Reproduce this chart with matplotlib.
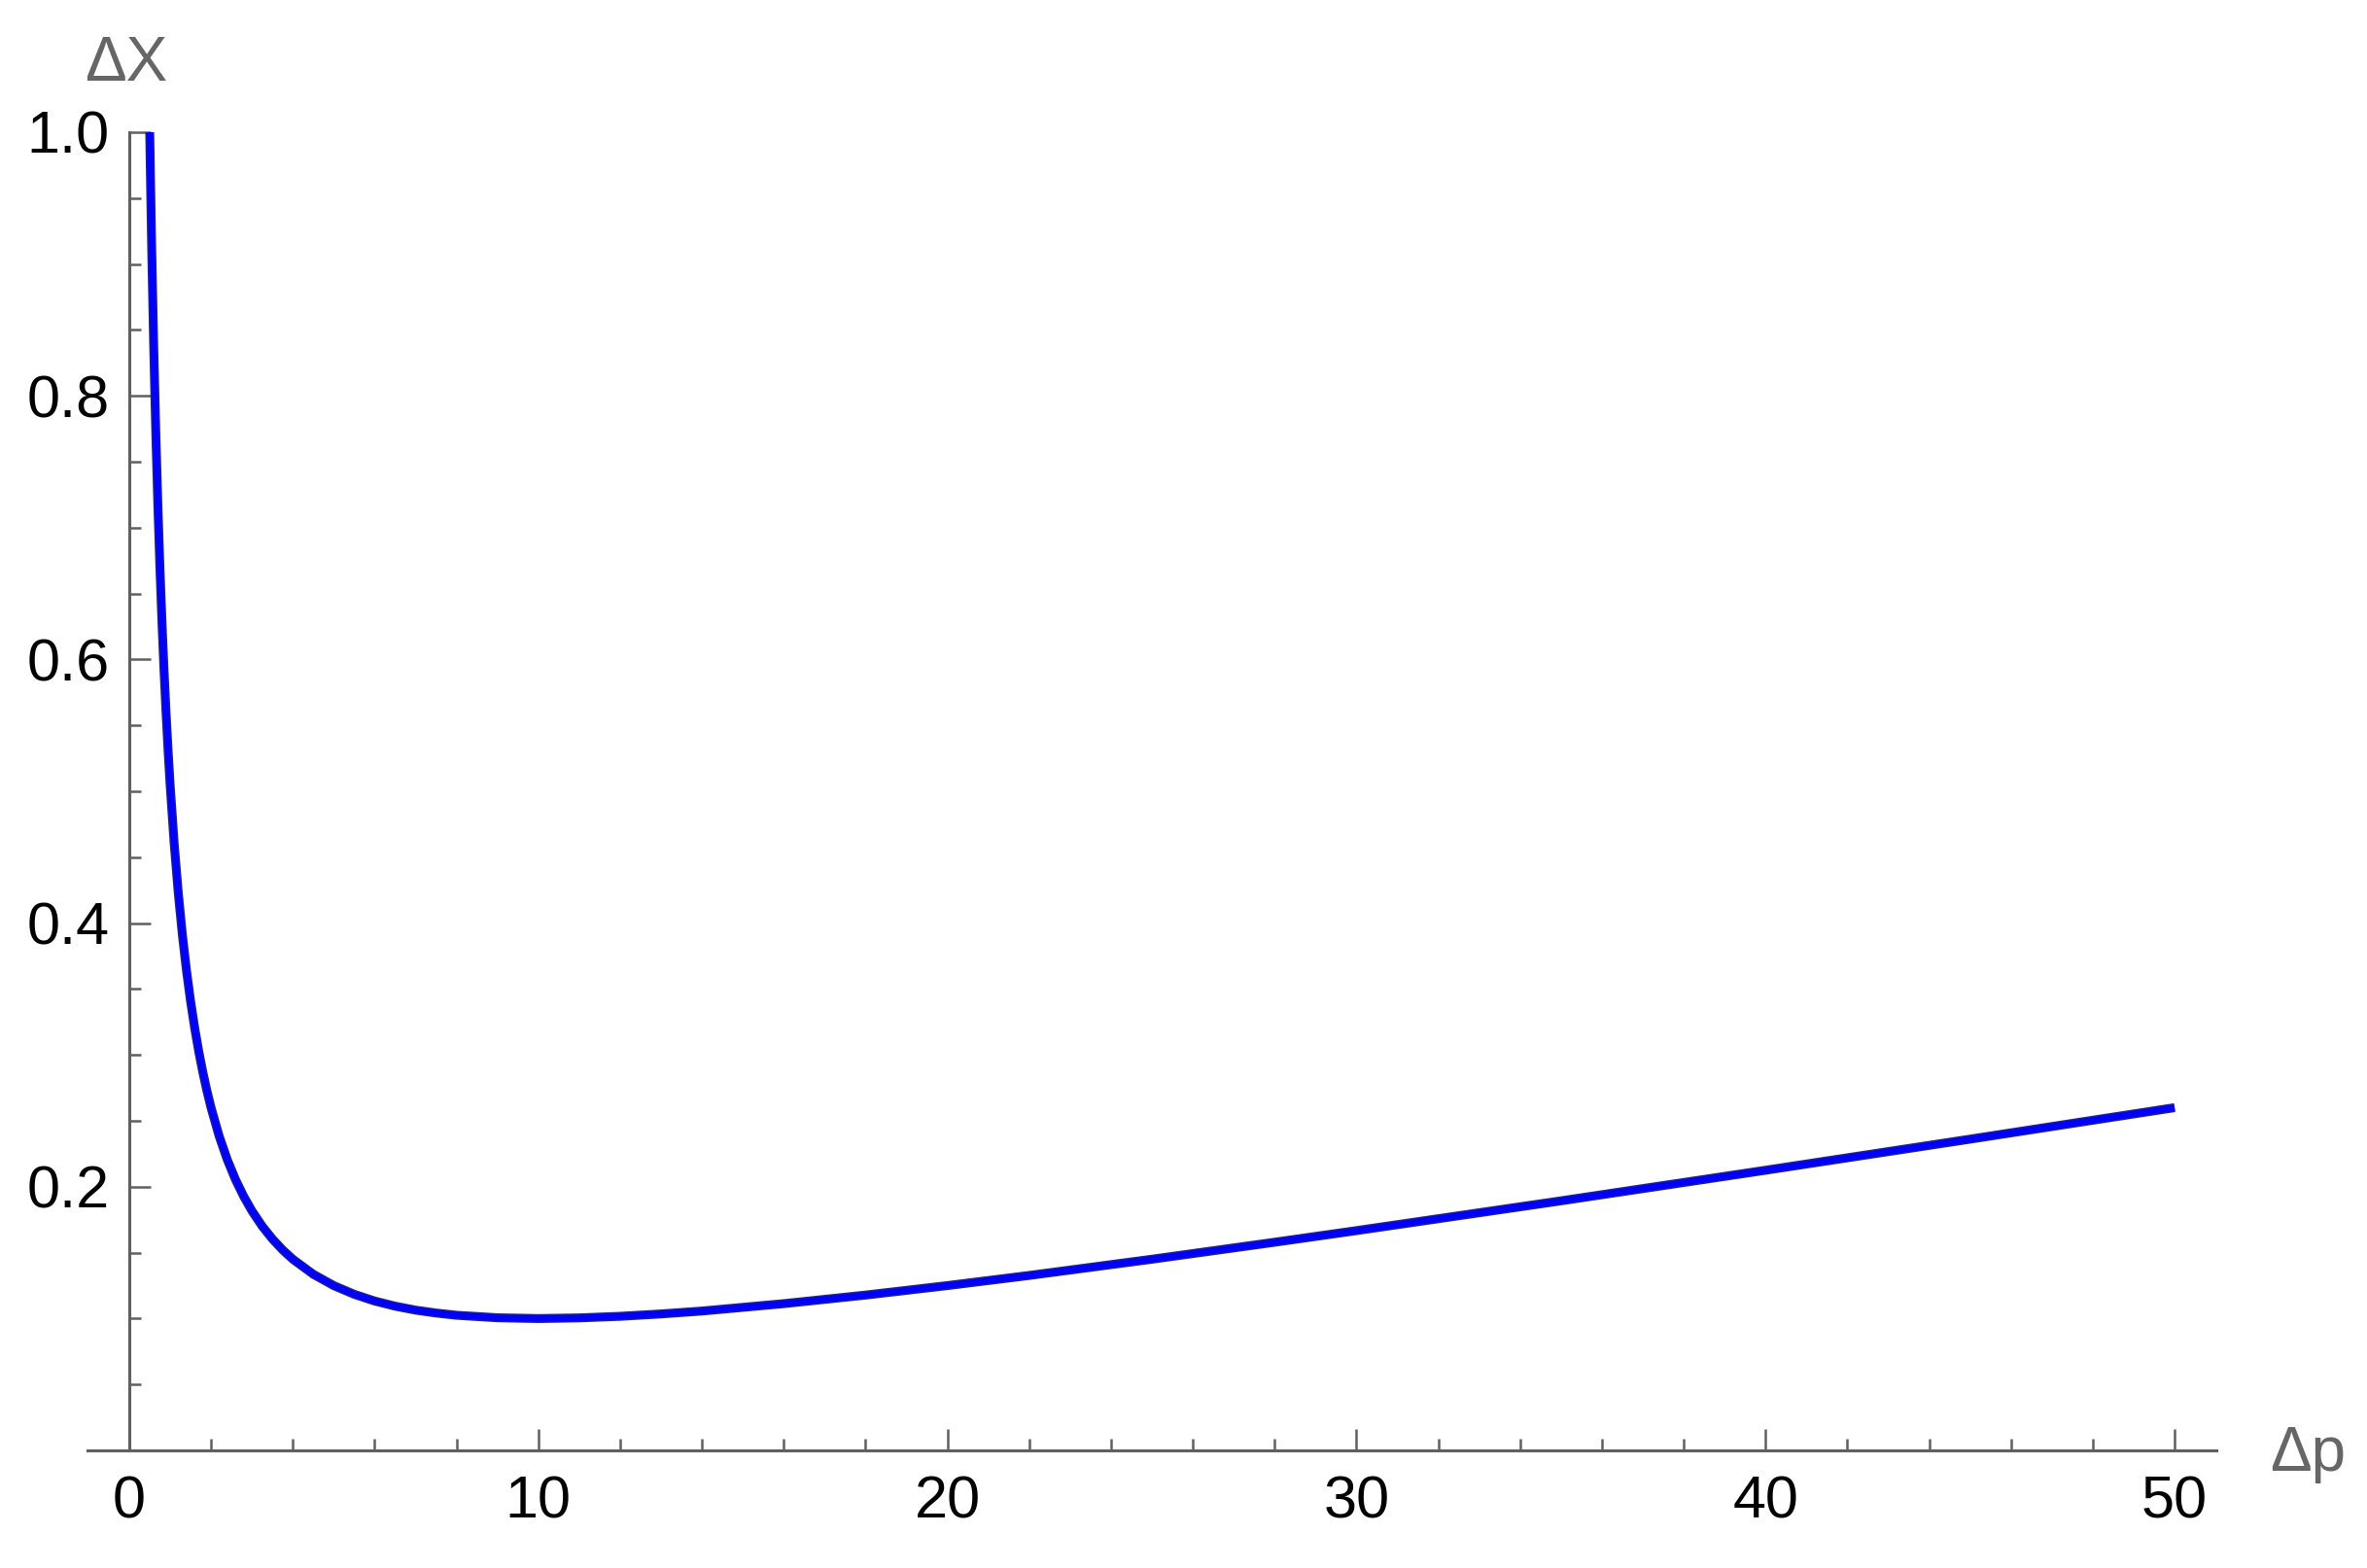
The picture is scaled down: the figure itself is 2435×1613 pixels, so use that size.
import matplotlib
matplotlib.use("Agg")
import matplotlib.pyplot as plt
from matplotlib.ticker import MultipleLocator

# Values
dp = [0.5, 0.55, 0.6, 0.65, 0.7, 0.75, 0.8, 0.85, 0.9, 0.95, 1.0, 1.1, 1.2, 1.3, 1.4,
      1.5, 1.6, 1.7, 1.8, 1.9, 2.0, 2.2, 2.4, 2.6, 2.8, 3.0, 3.25, 3.5, 3.75, 4.0, 4.5,
      5.0, 5.5, 6.0, 6.5, 7.0, 7.5, 8.0, 9.0, 10.0, 11.0, 12.0, 13.0, 14.0, 16.0, 18.0,
      20.0, 22.0, 25.0, 28.0, 30.0, 35.0, 40.0, 45.0, 50.0]
dx = [1.0025, 0.9118, 0.8363, 0.7725, 0.7178, 0.6704, 0.629, 0.5925, 0.5601, 0.5311,
      0.505, 0.4600, 0.4227, 0.3911, 0.3641, 0.3408, 0.3205, 0.3026, 0.2868, 0.2727,
      0.26, 0.2383, 0.2203, 0.2053, 0.1926, 0.1817, 0.1701, 0.1604, 0.1521, 0.145,
      0.1336, 0.125, 0.1184, 0.1133, 0.1094, 0.1064, 0.1042, 0.1025, 0.1006, 0.100,
      0.1005, 0.1017, 0.1035, 0.1057, 0.1113, 0.1178, 0.125, 0.1327, 0.145, 0.1579,
      0.1667, 0.1893, 0.2125, 0.2361, 0.26]
x_ticks = [0, 10, 20, 30, 40, 50]
y_ticks = [0.2, 0.4, 0.6, 0.8, 1.0]
y_tick_labels = ["0.2", "0.4", "0.6", "0.8", "1.0"]

plt.rcParams['font.family'] = ['Liberation Sans', 'DejaVu Sans']

W, H = 2435, 1613
fig = plt.figure(figsize=(W / 100, H / 100), dpi=100)
ax = fig.add_axes([90 / W, 121 / H, 2190 / W, 1356 / H])
ax.set_xlim(-1.02, 51.02)
ax.set_ylim(0, 1.0)

ax.plot(dp, dx, color='#1c1c9c', lw=6.6, solid_capstyle='butt')
ax.plot(dp, dx, color='#0000ff', lw=4.4, solid_capstyle='butt')

axis_col = '#606060'
for s in ['top', 'right']:
    ax.spines[s].set_visible(False)
ax.spines['left'].set_position(('data', 0))
for s in ['left', 'bottom']:
    ax.spines[s].set_color(axis_col)
    ax.spines[s].set_linewidth(2.2)

ax.set_xticks(x_ticks)
ax.set_yticks(y_ticks)
ax.set_yticklabels(y_tick_labels)
ax.xaxis.set_minor_locator(MultipleLocator(2))
ax.yaxis.set_minor_locator(MultipleLocator(0.05))
ax.tick_params(which='both', direction='in', color=axis_col, width=1.8,
               labelsize=44, labelcolor='black')
ax.tick_params(which='major', length=16)
ax.tick_params(which='minor', length=8.6)
ax.tick_params(axis='x', which='major', pad=18)
ax.tick_params(axis='y', which='major', pad=14.5)

fig.text(87 / W, 1 - 83 / H, 'ΔX', ha='left', va='baseline', fontsize=46, color='#666666')
fig.text(2335 / W, 1 - 1513 / H, 'Δp', ha='left', va='baseline', fontsize=46, color='#666666')

fig.savefig('out.png', dpi=100, facecolor='white')
